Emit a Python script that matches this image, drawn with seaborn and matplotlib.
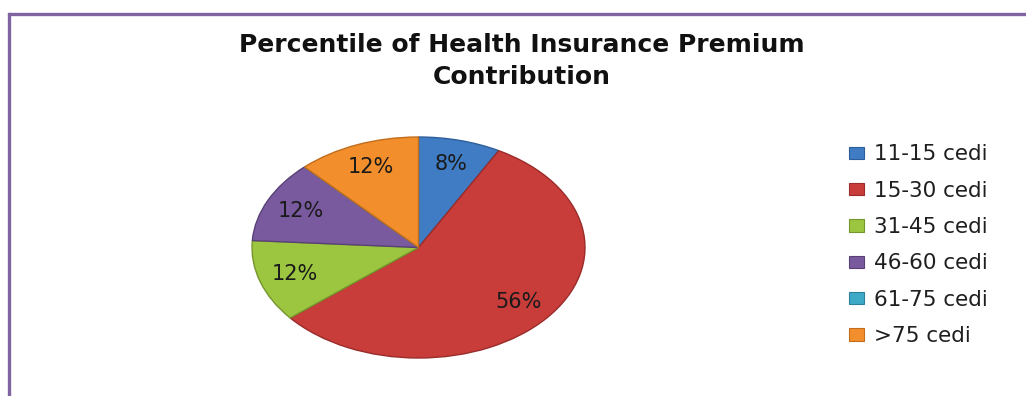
import matplotlib
matplotlib.use("Agg")
import matplotlib.pyplot as plt
from matplotlib.lines import Line2D
from matplotlib.patches import Patch
import seaborn as sns

# Premium contribution bands and share of respondents (%)
categories = ["11-15 cedi", "15-30 cedi", "31-45 cedi", "46-60 cedi", "61-75 cedi", ">75 cedi"]
shares = [8, 56, 12, 12, 0, 12]
title_text = "Percentile of Health Insurance Premium\nContribution"

sns.set_theme(style="white")
plt.rcParams["font.family"] = ["DejaVu Sans"]

colors = sns.color_palette(["#3F7CC4", "#C83C3A", "#9CC63F", "#7A5A9E", "#3FA9C8", "#F28E2B"])
edge_colors = sns.color_palette(["#2E5E99", "#9A2C2A", "#74962C", "#5A4078", "#2E809A", "#C06E1E"])

fig = plt.figure(figsize=(10.26, 3.96), dpi=100)
fig.patch.set_facecolor("white")

W, H = 1026, 396
cx, cy, rx, ry = 418.5, 247.5, 166.5, 110.5
ax = fig.add_axes([(cx - rx) / W, (H - cy - ry) / H, 2 * rx / W, 2 * ry / H])

wedges, texts, autotexts = ax.pie(
    shares,
    colors=colors,
    startangle=90,
    counterclock=False,
    autopct=lambda p: f"{p:.0f}%" if p > 0 else "",
    pctdistance=0.78,
    wedgeprops=dict(linewidth=1.0),
    textprops=dict(fontsize=15, color="#1a1a1a"),
)
for w, ec in zip(wedges, edge_colors):
    w.set_edgecolor(ec)
ax.set_aspect("auto")
ax.set_xlim(-1.0, 1.0)
ax.set_ylim(-1.0, 1.0)
ax.axis("off")

fig.text(522 / W, 1 - 61 / H, title_text, ha="center", va="center",
         fontsize=18, fontweight="bold", color="#111111", linespacing=1.4)

handles = [Patch(facecolor=c, edgecolor=e, linewidth=0.8) for c, e in zip(colors, edge_colors)]
fig.legend(handles, categories, loc="upper left", bbox_to_anchor=(830 / W, 1 - 125 / H),
           frameon=False, fontsize=15.5, handlelength=0.7, handleheight=0.5,
           handletextpad=0.45, labelspacing=0.76, labelcolor="#1f1f1f")

# Purple frame along the top and left edges
frame_color = "#8064A2"
fig.add_artist(Line2D([8.5 / W, 1.0], [1 - 13.5 / H, 1 - 13.5 / H], color=frame_color,
                      linewidth=2.4, transform=fig.transFigure))
fig.add_artist(Line2D([8.5 / W, 8.5 / W], [0.0, 1 - 13.5 / H], color=frame_color,
                      linewidth=2.4, transform=fig.transFigure, solid_capstyle="projecting"))

fig.savefig("out.png", dpi=100, facecolor="white")
